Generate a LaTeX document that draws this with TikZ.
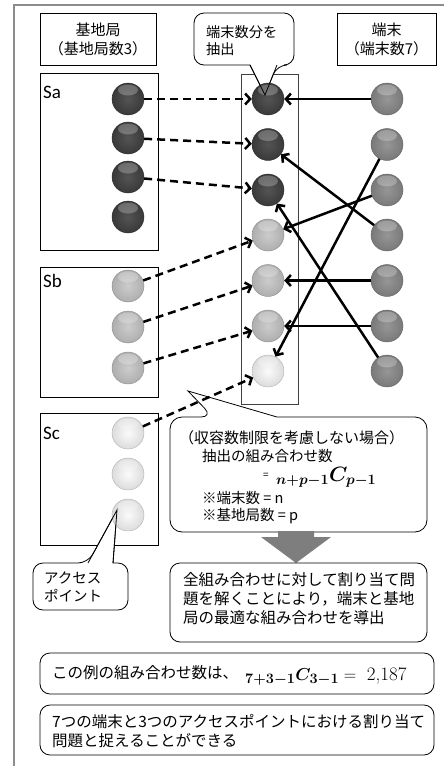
\documentclass[tikz,border=0pt]{standalone}
\usepackage{fontspec}
\usepackage{bm}
\newfontfamily\jpfont{Noto Sans CJK JP}
\newfontfamily\calfont{Carlito}
\usetikzlibrary{arrows.meta,calc}
\definecolor{cdark}{HTML}{414141}
\definecolor{clight}{HTML}{C6C6C6}
\definecolor{cwhite}{HTML}{FAFAFA}
\definecolor{cterm}{HTML}{8A8A8A}
\definecolor{cframe}{HTML}{8C8C8C}
\definecolor{carrow}{HTML}{7E7E7E}
\tikzset{
  box/.style={draw, line width=0.8pt},
  rbox/.style={draw, line width=0.8pt, rounded corners=10pt, fill=white},
  ball/.style={circle, minimum size=32pt, inner sep=0pt, draw=#1!70!black, line width=0.4pt,
    inner color=#1!90!white, outer color=#1!88!black,
    path picture={\fill[white,opacity=0.25] ($(path picture bounding box.north)+(0,-7pt)$) ellipse [x radius=10pt, y radius=5.5pt];}},
  dasharr/.style={line width=2.5pt, dash pattern=on 8pt off 5pt, -{Straight Barb[length=5pt,width=11pt]}},
  solarr/.style={line width=2.5pt, -{Straight Barb[length=5pt,width=11pt]}},
  jtxt/.style={font=\jpfont\fontsize{14.5}{19}\selectfont, inner sep=0pt},
  jbig/.style={font=\jpfont\fontsize{15.5}{19}\selectfont, inner sep=0pt},
  slabel/.style={font=\calfont\fontsize{19}{20}\selectfont, inner sep=0pt, anchor=west},
}
\begin{document}
\begin{tikzpicture}[x=1pt,y=-1pt]
\useasboundingbox (0,0) rectangle (444,766);
\clip (0,0) rectangle (444,766);
% outer frame
\draw[cframe, line width=1.5pt] (14,790) -- (14,5) -- (460,5);

% headers
\node[box, align=center, inner sep=0pt, font=\jpfont\fontsize{15}{19}\selectfont, minimum width=116pt, minimum height=52pt] (hdrA) at (98,39) {基地局\\（基地局数3）};
\node[box, align=center, inner sep=0pt, font=\jpfont\fontsize{15}{19}\selectfont, minimum width=99pt, minimum height=52pt] (hdrT) at (386.5,39) {端末\\（端末数7）};

% station boxes
\node[box, minimum width=118pt, minimum height=177pt] (boxA) at (99,161.5) {};
\node[box, minimum width=118pt, minimum height=130pt] (boxB) at (99,332) {};
\node[box, minimum width=118pt, minimum height=132pt] (boxC) at (99,479) {};
\node[draw=black!75, line width=0.8pt, minimum width=57pt, minimum height=330pt] (boxM) at (269.5,239) {};

\node[slabel] (labA) at (43,92) {Sa};
\node[slabel] (labB) at (43,281) {Sb};
\node[slabel] (labC) at (43,433) {Sc};

% top callout body
\draw[rbox] (194,39) -- (194,13) -- (294,13) -- (294,65) -- (277,65) [sharp corners] -- (265,95) -- (250,65) [rounded corners=10pt] -- (194,65) -- cycle;
\node[anchor=west, align=left, inner sep=0pt, font=\jpfont\fontsize{14.2}{17}\selectfont] (calloutT) at (206,40.5) {端末数分を\\抽出};

% access point callout body
\draw[rbox] (33,586) -- (33,563) -- (88,563) [sharp corners] -- (117,510) -- (113,563) [rounded corners=10pt] -- (128,563) -- (128,610) -- (33,610) -- cycle;
\node[anchor=west, align=left, inner sep=0pt, font=\jpfont\fontsize{14.5}{18}\selectfont] (apT) at (44,587) {アクセス\\ポイント};

% circles
\foreach \i/\y in {1/99,2/138,3/177,4/217} \node[ball=cdark] (sa\i) at (128,\y) {};
\foreach \i/\y in {1/286,2/327,3/368} \node[ball=clight] (sb\i) at (128,\y) {};
\foreach \i/\y in {1/433,2/474,3/515} \node[ball=cwhite] (sc\i) at (128,\y) {};
\foreach \i/\y in {1/99,2/144.5,3/190} \node[ball=cdark] (m\i) at (268,\y) {};
\foreach \i/\y in {4/235,5/280.5,6/326} \node[ball=clight] (m\i) at (268,\y) {};
\node[ball=cwhite] (m7) at (268,371) {};
\foreach \i/\y in {1/99,2/144.5,3/190,4/235,5/280.5,6/326,7/371} \node[ball=cterm] (t\i) at (387,\y) {};

% callout tails over circles
\draw[line width=0.8pt] (250,65) -- (265,95) -- (277,65);
\draw[line width=0.8pt] (88,563) -- (117,510) -- (113,563);

% big callout
\draw[rbox, rounded corners=12pt] (170,470) -- (170,417) -- (213,417) [sharp corners] -- (188,391) -- (277,417) [rounded corners=12pt] -- (427,417) -- (427,532) -- (170,532) -- cycle;
\node[jtxt, anchor=west, font=\jpfont\fontsize{15}{19}\selectfont] (bc1) at (179,438) {（収容数制限を考慮しない場合）};
\node[jtxt, anchor=west] (bc2) at (202,456) {抽出の組み合わせ数};
\node[anchor=west, inner sep=0pt, font=\jpfont\fontsize{10}{12}\selectfont] (bc3) at (263,476) {=};
\node[anchor=base west, inner sep=0pt, font=\fontsize{20}{22}\selectfont] (bc4) at (276,481) {$\bm{{}_{n+p-1}C_{p-1}}$};
\node[jtxt, anchor=west] (bc5) at (202,498) {※端末数 = n};
\node[jtxt, anchor=west] (bc6) at (202,516) {※基地局数 = p};

% down arrow
\fill[carrow] (278,531) -- (314,531) -- (314,537) -- (331,537) -- (296,563) -- (261,537) -- (278,537) -- cycle;

% result box
\node[rbox, minimum width=257pt, minimum height=79pt] (box3) at (298.5,602.5) {};
\node[jbig, anchor=west, align=left] (resT) at (183,599) {全組み合わせに対して割り当て問\\題を解くことにより，端末と基地\\局の最適な組み合わせを導出};

% bottom boxes
\node[rbox, minimum width=394pt, minimum height=41pt] (box4) at (237,673.5) {};
\node[jbig, anchor=west] (exT) at (52,673) {この例の組み合わせ数は、};
\node[anchor=base west, inner sep=0pt, font=\fontsize{19}{22}\selectfont] (exF) at (245,680) {$\bm{{}_{7+3-1}C_{3-1}} = {}$\ 2,187};
\node[rbox, minimum width=394pt, minimum height=50pt] (box5) at (237,730) {};
\node[jbig, anchor=west, align=left] (sumT) at (52,731.5) {7つの端末と3つのアクセスポイントにおける割り当て\\問題と捉えることができる};

% arrows
\draw[dasharr] (sa1) -- (m1);
\draw[dasharr] (sa2) -- (m2);
\draw[dasharr] (sa3) -- (m3);
\draw[dasharr] (sb1) -- (m4);
\draw[dasharr] (sb2) -- (m5);
\draw[dasharr] (sb3) -- (m6);
\draw[dasharr] (sc1) -- (m7);
\draw[solarr] (t1) -- (m1);
\draw[solarr] (t2) -- (m7);
\draw[solarr] (t3) -- (m4);
\draw[solarr] (t4) -- (m2);
\draw[solarr] (t5) -- (m5);
\draw[solarr] (t6) -- (m6);
\draw[solarr] (t7) -- (m3);
\end{tikzpicture}
\end{document}
